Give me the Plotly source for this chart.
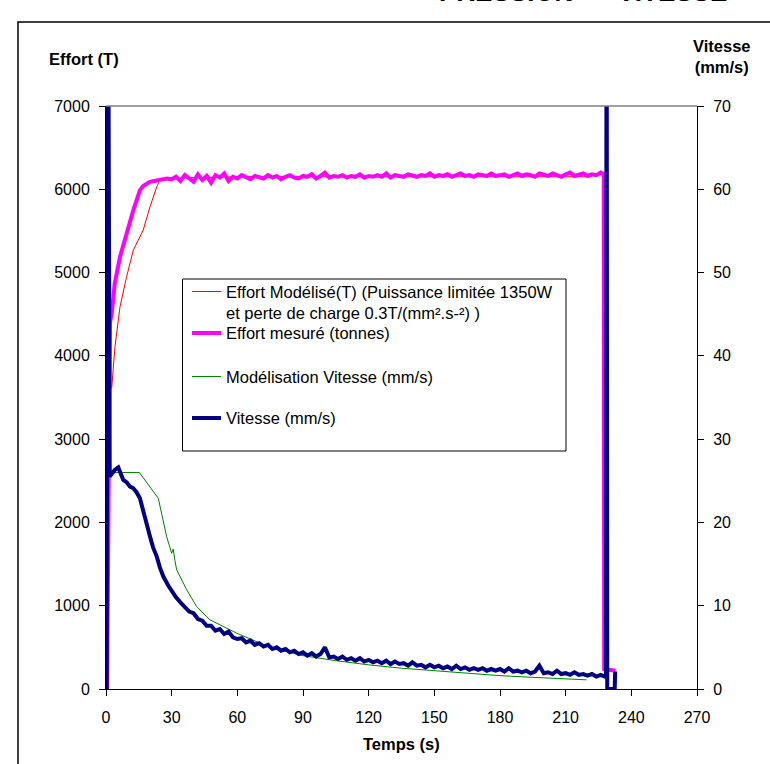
import plotly.graph_objects as go

# ---------------- data ----------------
# Effort mesuré (tonnes) - left axis
t_effort_mes = [0.5, 1.8, 2.6, 4.0, 6.4, 9.4, 12.5, 15.5, 17.0, 20.0, 24.7, 27.7,
                30, 32, 34, 36, 38, 40, 42, 44, 46, 48, 50, 52, 54, 56, 58, 60, 62, 64, 66, 68,
                70, 72, 74, 76, 78, 80, 82, 84, 86, 88, 90, 92, 94, 96, 98, 100, 102, 104, 106, 108,
                110, 112, 114, 116, 118, 120, 122, 124, 126, 128, 130, 132, 134, 136, 138, 140, 142, 144, 146, 148,
                150, 152, 154, 156, 158, 160, 162, 164, 166, 168, 170, 172, 174, 176, 178, 180, 182, 184, 186, 188,
                190, 192, 194, 196, 198, 200, 202, 204, 206, 208, 210, 212, 214, 216, 218, 220, 222, 224, 226,
                227.4, 227.6, 229.6, 232.8]
effort_mes = [0, 4400, 4500, 4870, 5190, 5470, 5750, 5990, 6040, 6090, 6110, 6130,
              6120, 6150, 6100, 6170, 6130, 6090, 6180, 6110, 6160, 6080, 6170, 6140, 6190, 6100, 6150, 6130, 6170, 6140, 6120, 6160,
              6150, 6130, 6170, 6140, 6160, 6120, 6150, 6170, 6140, 6130, 6160, 6150, 6180, 6130, 6160, 6200, 6140, 6160, 6150, 6170,
              6140, 6160, 6150, 6180, 6140, 6160, 6150, 6170, 6150, 6190, 6140, 6170, 6160, 6150, 6180, 6160, 6150, 6170, 6160, 6190,
              6150, 6170, 6160, 6180, 6150, 6170, 6190, 6160, 6170, 6150, 6180, 6170, 6160, 6190, 6160, 6170, 6180, 6150, 6170, 6190,
              6160, 6180, 6170, 6150, 6190, 6170, 6160, 6190, 6170, 6150, 6180, 6200, 6160, 6170, 6190, 6160, 6180, 6170, 6200,
              6180, 240, 230, 220]

# Effort modélisé (T) - left axis
t_effort_mod = [2.6, 4.1, 6.4, 9.4, 12.5, 17.0, 20.1, 23.2, 24.7, 29.0, 40, 60, 100, 150, 219]
effort_mod = [3610, 4110, 4590, 4950, 5270, 5510, 5790, 6030, 6110, 6130, 6140, 6150, 6150, 6150, 6150]

# Modélisation vitesse (mm/s) - right axis
t_vit_mod = [2.0, 15.2, 23.9, 27.7, 30.0, 30.7, 31.5, 32.3, 36.9, 41.4, 47.5, 53.6, 59.7,
             75, 90, 105, 120, 135, 150, 165, 180, 195, 210, 219.5]
vit_mod = [26.0, 26.0, 22.9, 18.3, 16.3, 16.8, 15.4, 14.3, 11.9, 9.9, 8.3, 7.5, 6.7,
           5.0, 4.0, 3.4, 2.9, 2.5, 2.2, 1.9, 1.6, 1.4, 1.2, 1.1]

# Vitesse mesurée (mm/s) - right axis
t_vit = [0.3, 0.9, 1.7, 2.5, 4.0, 5.6, 6.5, 7.9, 9.5, 11.0, 12.5, 14.0, 15.5, 16.5, 17.8, 19.0, 20.1,
         21.5, 23.2, 24.6, 26.2, 28.5, 30.7,
         32, 34, 36, 38, 40, 42, 44, 46, 48, 50, 52, 54, 56, 58, 60, 62, 64, 66, 68,
         70, 72, 74, 76, 78, 80, 82, 84, 86, 88, 90, 92, 94, 96, 98, 100, 102, 104, 106, 108,
         110, 112, 114, 116, 118, 120, 122, 124, 126, 128, 130, 132, 134, 136, 138, 140, 142, 144, 146, 148,
         150, 152, 154, 156, 158, 160, 162, 164, 166, 168, 170, 172, 174, 176, 178, 180, 182, 184, 186, 188,
         190, 192, 194, 196, 198, 200, 202, 204, 206, 208, 210, 212, 214, 216, 218, 220, 222, 224, 226,
         227.8, 228.4, 228.7, 229.0, 232.4, 232.6]
vit = [0, 95, 25.5, 25.8, 26.3, 26.6, 26.0, 25.1, 24.8, 24.3, 24.1, 23.6, 22.9, 21.8, 20.7, 19.5, 18.3,
       17.0, 15.9, 14.6, 13.5, 12.4, 11.5,
       11.0, 10.4, 9.9, 9.3, 9.1, 8.4, 8.2, 7.6, 7.6, 7.0, 7.2, 6.6, 6.9, 6.2, 6.0, 6.1, 5.6, 5.8, 5.3,
       5.5, 5.1, 5.3, 4.8, 5.0, 4.6, 4.8, 4.4, 4.6, 4.2, 4.4, 4.0, 4.3, 3.9, 4.2, 5.0, 3.8, 3.9, 3.6, 3.9,
       3.5, 3.7, 3.4, 3.7, 3.3, 3.5, 3.2, 3.4, 3.1, 3.4, 3.0, 3.3, 3.0, 3.1, 2.8, 3.2, 2.8, 2.9, 2.6, 2.9,
       2.6, 2.8, 2.5, 2.7, 2.4, 2.8, 2.4, 2.6, 2.3, 2.5, 2.3, 2.5, 2.2, 2.4, 2.2, 2.4, 2.1, 2.5, 2.1, 2.2,
       2.0, 2.2, 1.9, 2.1, 2.8, 1.9, 2.0, 1.8, 2.2, 1.8, 1.9, 1.7, 2.0, 1.7, 1.8, 1.6, 1.8, 1.5, 1.7,
       1.5, 1.6, 95, 0, 0, 2.1]

x_ticks = [0, 30, 60, 90, 120, 150, 180, 210, 240, 270]
y_ticks = [0, 1000, 2000, 3000, 4000, 5000, 6000, 7000]
y2_ticks = [0, 10, 20, 30, 40, 50, 60, 70]

legend_names = ["Effort Modélisé(T) (Puissance limitée 1350W",
                "et perte de charge 0.3T/(mm².s-²) )",
                "Effort mesuré (tonnes)",
                "Modélisation Vitesse (mm/s)",
                "Vitesse (mm/s)"]

# ---------------- layout helpers ----------------
W, H = 770, 764
L, R, T, B = 106, 697, 106, 689
FONT = "Arial, Liberation Sans, sans-serif"


def px(x):
    return (x - L) / (R - L)


def py(y):
    return (B - y) / (B - T)


RED = "#ff0000"
MAG = "#ff00ff"
GRN = "#008000"
NAVY = "#000080"

fig = go.Figure()
fig.add_trace(go.Scatter(x=t_effort_mod, y=effort_mod, mode="lines",
                         line=dict(color=RED, width=1), yaxis="y"))
fig.add_trace(go.Scatter(x=t_effort_mes, y=effort_mes, mode="lines",
                         line=dict(color=MAG, width=4), yaxis="y"))
fig.add_trace(go.Scatter(x=t_vit_mod, y=vit_mod, mode="lines",
                         line=dict(color=GRN, width=1), yaxis="y2"))
fig.add_trace(go.Scatter(x=t_vit, y=vit, mode="lines",
                         line=dict(color=NAVY, width=4), yaxis="y2"))

axis_common = dict(showline=True, linecolor="black", linewidth=1, ticks="outside",
                   ticklen=6, tickcolor="black", tickwidth=1, showgrid=False, zeroline=False,
                   tickfont=dict(family=FONT, size=16, color="black"))

fig.update_layout(
    width=W, height=H, showlegend=False,
    margin=dict(l=L, r=W - R, t=T, b=H - B, pad=0),
    paper_bgcolor="white", plot_bgcolor="white",
    xaxis=dict(range=[0, 270], tickvals=x_ticks, ticklabelstandoff=8, **axis_common),
    yaxis=dict(range=[0, 7000], tickvals=y_ticks, ticklabelstandoff=6, **axis_common),
    yaxis2=dict(range=[0, 70], tickvals=y2_ticks, overlaying="y", side="right",
                ticklabelstandoff=6, **axis_common),
)

shapes = []
# outer frame (only top and left visible)
shapes.append(dict(type="rect", xref="paper", yref="paper",
                   x0=px(18), x1=px(900), y0=py(900), y1=py(22),
                   line=dict(color="black", width=1.5), layer="below"))
# top plot-area border (gray)
shapes.append(dict(type="line", xref="paper", yref="paper",
                   x0=0, x1=1, y0=1, y1=1, line=dict(color="#808080", width=1.5)))
# legend box
shapes.append(dict(type="rect", xref="paper", yref="paper",
                   x0=px(182.5), x1=px(566), y0=py(451), y1=py(279),
                   line=dict(color="black", width=1), fillcolor="white", layer="above"))

legend_rows = [(291.5, RED, 1, legend_names[0]),
               (333, MAG, 4, legend_names[2]),
               (376.5, GRN, 1, legend_names[3]),
               (418, NAVY, 4, legend_names[4])]
annotations = []
for yy, col, w, name in legend_rows:
    shapes.append(dict(type="line", xref="paper", yref="paper",
                       x0=px(192), x1=px(221), y0=py(yy), y1=py(yy),
                       line=dict(color=col, width=w), layer="above"))
    annotations.append(dict(xref="paper", yref="paper", x=px(224), y=py(yy),
                            xanchor="left", yanchor="middle", showarrow=False,
                            text=name, font=dict(family=FONT, size=16.5, color="black")))
annotations.append(dict(xref="paper", yref="paper", x=px(224), y=py(312.5),
                        xanchor="left", yanchor="middle", showarrow=False,
                        text=legend_names[1], font=dict(family=FONT, size=16.5, color="black")))

# axis titles
annotations.append(dict(xref="paper", yref="paper", x=px(84), y=py(59),
                        xanchor="center", yanchor="middle", showarrow=False,
                        text="<b>Effort (T)</b>", font=dict(family=FONT, size=16.5, color="black")))
annotations.append(dict(xref="paper", yref="paper", x=px(722), y=py(57),
                        xanchor="center", yanchor="middle", showarrow=False,
                        text="<b>Vitesse<br>(mm/s)</b>", font=dict(family=FONT, size=16.5, color="black")))
annotations.append(dict(xref="paper", yref="paper", x=px(401), y=py(744),
                        xanchor="center", yanchor="middle", showarrow=False,
                        text="<b>Temps (s)</b>", font=dict(family=FONT, size=16.5, color="black")))
# chart title, cut off at the very top edge as in the reference
annotations.append(dict(xref="paper", yref="paper", x=px(437), y=py(-8),
                        xanchor="left", yanchor="middle", showarrow=False,
                        text="<b>PRESSION  +  VITESSE</b>", font=dict(family=FONT, size=26, color="black")))

fig.update_layout(shapes=shapes, annotations=annotations)
fig.write_html("out.html", config={"displayModeBar": False},
               post_script="document.body.style.margin='0';")
